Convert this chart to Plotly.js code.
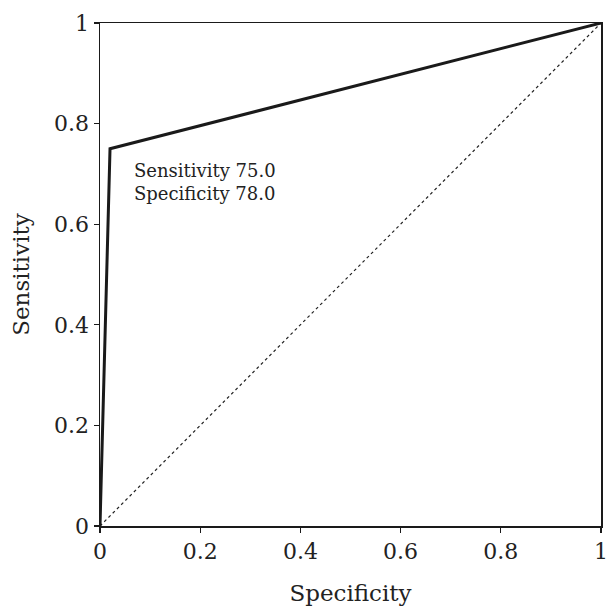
<!DOCTYPE html>
<html><head><meta charset="utf-8">
<script src="https://cdn.plot.ly/plotly-3.0.1.min.js"></script>
<style>html,body{margin:0;padding:0;background:#fff}</style>
</head><body>
<div id="chart" style="width:609px;height:609px"></div>
<script>
const rocSpecificity = [0, 0.02, 1];
const rocSensitivity = [0, 0.75, 1];
const refX = [0, 1];
const refY = [0, 1];
const tickVals = [0, 0.2, 0.4, 0.6, 0.8, 1];
const tickText = ['0', '0.2', '0.4', '0.6', '0.8', '1'];
const noteLines = ['Sensitivity 75.0', 'Specificity 78.0'];
const FONT = 'DejaVu Serif';

const traces = [
  {x: refX, y: refY, mode: 'lines', line: {color: '#222', width: 1.2, dash: 'dot'}, hoverinfo: 'skip', cliponaxis: false},
  {x: rocSpecificity, y: rocSensitivity, mode: 'lines', line: {color: '#1a1a1a', width: 3}, hoverinfo: 'skip', cliponaxis: false}
];
const axisCommon = {
  range: [0, 1], tickvals: tickVals, ticktext: tickText,
  showgrid: false, zeroline: false, showline: true, mirror: true,
  linecolor: '#1a1a1a', linewidth: 1.5, ticks: 'outside', ticklen: 5, tickwidth: 1.2, tickcolor: '#1a1a1a',
  ticklabeloverflow: 'allow',
  tickfont: {family: FONT, size: 22, color: '#222'}
};
const layout = {
  width: 609, height: 609,
  margin: {l: 100, r: 8, t: 23, b: 83},
  paper_bgcolor: '#fff', plot_bgcolor: '#fff',
  showlegend: false,
  xaxis: Object.assign({}, axisCommon, {title: {text: 'Specificity', font: {family: FONT, size: 23, color: '#222'}, standoff: 22}}),
  yaxis: Object.assign({}, axisCommon, {title: {text: 'Sensitivity', font: {family: FONT, size: 23, color: '#222'}, standoff: 18}}),
  annotations: [{
    x: 0.063, y: 0.684, xref: 'x', yref: 'y', xanchor: 'left', yanchor: 'middle',
    text: noteLines.join('<br>'), showarrow: false, align: 'left',
    font: {family: FONT, size: 18, color: '#222'}
  }]
};
Plotly.newPlot('chart', traces, layout, {staticPlot: true, displayModeBar: false});
</script>
</body></html>
